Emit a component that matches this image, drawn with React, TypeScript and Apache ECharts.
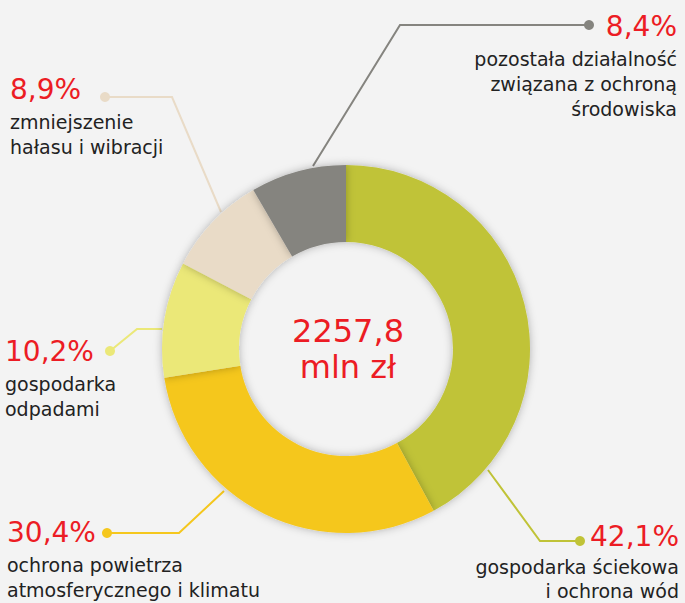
import React, { useEffect, useRef } from "react";
import * as echarts from "echarts";

// ---- data ----
const categories = [
  "gospodarka ściekowa\ni ochrona wód",
  "ochrona powietrza\natmosferycznego i klimatu",
  "gospodarka\nodpadami",
  "zmniejszenie\nhałasu i wibracji",
  "pozostała działalność\nzwiązana z ochroną\nśrodowiska",
];
const shares = [42.1, 30.4, 10.2, 8.9, 8.4];
const totalValue = "2257,8";
const totalUnit = "mln zł";

// ---- style / layout ----
const colors = ["#c0c337", "#f5c71d", "#ebe878", "#e9dbc7", "#85847f"];
const RED = "#ec1c24";
const FONT = "'Comic Sans MS', 'DejaVu Sans', sans-serif";
const CX = 346;
const CY = 349;

type Anchor = {
  x: number;
  y: number;
  align: "left" | "right";
  pLh: number;
  tLh: number;
  line: number[][];
};
const anchors: Anchor[] = [
  { x: 679, y: 517, align: "right", pLh: 38, tLh: 24, line: [[488, 470], [540, 541], [580, 541]] },
  { x: 7, y: 512, align: "left", pLh: 40, tLh: 25, line: [[224, 491], [179, 533], [107, 533]] },
  { x: 5, y: 331, align: "left", pLh: 40, tLh: 25, line: [[162, 329], [137, 329], [110, 351]] },
  { x: 10, y: 69, align: "left", pLh: 40, tLh: 25, line: [[221, 212], [172, 97], [105, 97]] },
  { x: 677, y: 6, align: "right", pLh: 40, tLh: 25, line: [[313, 166], [400, 25], [589, 25]] },
];

const fmt = (v: number) => v.toFixed(1).replace(".", ",") + "%";

const richFor = (a: Anchor) => ({
  p: { fontFamily: FONT, fontSize: 28, color: RED, lineHeight: a.pLh, align: a.align },
  t: { fontFamily: FONT, fontSize: 19, color: "#222222", lineHeight: a.tLh, align: a.align },
});

export default function App() {
  const ref = useRef<HTMLDivElement>(null);

  useEffect(() => {
    document.body.style.margin = "0";
    if (!ref.current) return;
    const chart = echarts.init(ref.current, null, { renderer: "svg" });

    const data = categories.map((name, i) => ({
      name,
      value: shares[i],
      itemStyle: { color: colors[i] },
      label: { align: anchors[i].align, rich: richFor(anchors[i]) },
    }));

    chart.setOption({
      animation: false,
      backgroundColor: "#f3f3f3",
      series: [
        {
          type: "pie",
          center: [CX, CY],
          radius: [107, 184],
          startAngle: 90,
          clockwise: true,
          avoidLabelOverlap: false,
          itemStyle: {
            shadowBlur: 8,
            shadowColor: "rgba(0,0,0,0.28)",
            shadowOffsetX: 0,
            shadowOffsetY: 0,
          },
          emphasis: { disabled: true },
          label: {
            show: true,
            position: "outside",
            fontFamily: FONT,
            formatter: (p: any) => {
              const lines = String(p.name)
                .split("\n")
                .map((l: string) => `{t|${l}}`)
                .join("\n");
              return `{p|${fmt(p.value)}}\n${lines}`;
            },
          },
          labelLine: {
            show: true,
            smooth: false,
            lineStyle: { width: 2 },
          },
          labelLayout: (params: any) => {
            const a = anchors[params.dataIndex];
            return {
              x: a.x,
              y: a.y,
              align: a.align,
              verticalAlign: "top",
              labelLinePoints: a.line,
              hideOverlap: false,
            };
          },
          data,
        },
      ],
      graphic: [
        ...anchors.map((a, i) => ({
          type: "circle",
          shape: { cx: a.line[2][0], cy: a.line[2][1], r: 5 },
          style: { fill: colors[i] },
          z: 100,
        })),
        {
          type: "text",
          x: CX + 2,
          y: CY,
          style: {
            text: `${totalValue}\n${totalUnit}`,
            fontFamily: FONT,
            fontSize: 32,
            lineHeight: 36,
            fill: RED,
            align: "center",
            verticalAlign: "middle",
          },
          z: 100,
        },
      ],
    });

    return () => chart.dispose();
  }, []);

  return (
    <div
      ref={ref}
      style={{ position: "fixed", left: 0, top: 0, width: 685, height: 603 }}
    />
  );
}
